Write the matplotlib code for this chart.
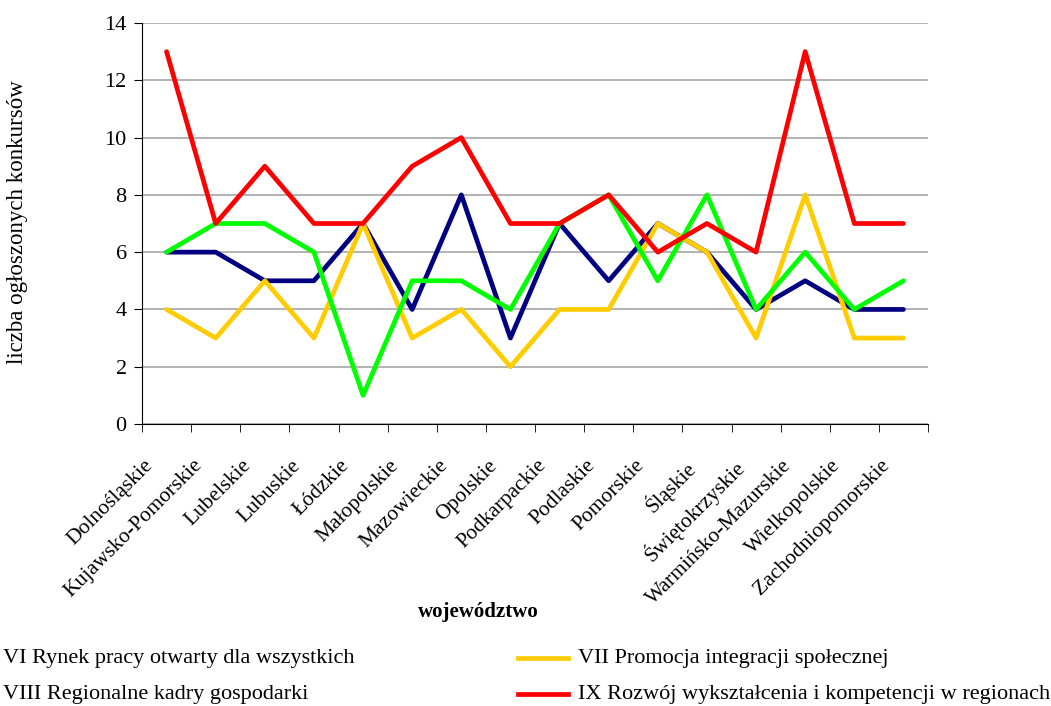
import numpy as np
import matplotlib.pyplot as plt
from matplotlib.lines import Line2D
from matplotlib.ticker import MultipleLocator
from matplotlib.transforms import ScaledTranslation

plt.rcParams['font.family'] = ['Liberation Serif', 'DejaVu Serif']

regions = ['Dolnośląskie', 'Kujawsko-Pomorskie', 'Lubelskie', 'Lubuskie', 'Łódzkie',
           'Małopolskie', 'Mazowieckie', 'Opolskie', 'Podkarpackie', 'Podlaskie',
           'Pomorskie', 'Śląskie', 'Świętokrzyskie', 'Warmińsko-Mazurskie',
           'Wielkopolskie', 'Zachodniopomorskie']
vi = [6, 6, 5, 5, 7, 4, 8, 3, 7, 5, 7, 6, 4, 5, 4, 4]
vii = [4, 3, 5, 3, 7, 3, 4, 2, 4, 4, 7, 6, 3, 8, 3, 3]
viii = [6, 7, 7, 6, 1, 5, 5, 4, 7, 8, 5, 8, 4, 6, 4, 5]
ix = [13, 7, 9, 7, 7, 9, 10, 7, 7, 8, 6, 7, 6, 13, 7, 7]
series_names = ['VI Rynek pracy otwarty dla wszystkich',
                'VII Promocja integracji społecznej',
                'VIII Regionalne kadry gospodarki',
                'IX Rozwój wykształcenia i kompetencji w regionach']
colors = ['#000080', '#FFCC00', '#00FF00', '#FF0000']

fig = plt.figure(figsize=(10.51, 7.06), dpi=100)
ax = fig.add_axes([142/1051, 1-424/706, (928-142)/1051, (424-23)/706])

x = np.arange(len(regions))
for vals, c in zip([vi, vii, viii, ix], colors):
    ax.plot(x, vals, color=c, lw=3.4, solid_capstyle='round', solid_joinstyle='round')

ax.set_xlim(-0.5, len(regions) - 0.5)
ax.set_ylim(0, 14)
ax.yaxis.set_major_locator(MultipleLocator(2))
ax.grid(axis='y', color='#a6a6a6', lw=1.2)
ax.set_axisbelow(True)
for s in ['top', 'right']:
    ax.spines[s].set_visible(False)
ax.tick_params(axis='y', direction='out', length=6, labelsize=16, pad=5)

ax.set_xticks(x, regions, rotation=45, ha='right', rotation_mode='anchor', fontsize=15.5)
ax.tick_params(axis='x', which='major', length=0, pad=18)
ax.set_xticks(np.arange(-0.5, len(regions)), minor=True)
ax.tick_params(axis='x', which='minor', direction='out', length=6)
shift = ScaledTranslation(-23/100, -7/100, fig.dpi_scale_trans)
for lab in ax.get_xticklabels():
    lab.set_transform(lab.get_transform() + shift)

fig.text(478/1051, 1-612/706, 'województwo', ha='center', va='center',
         fontsize=15, fontweight='bold')
fig.text(18/1051, 1-222/706, 'liczba ogłoszonych konkursów', rotation=90,
         ha='center', va='center', fontsize=16.5)

# legend, two columns, left column handles fall off the canvas
leg_pos = [(-57, 658), (518, 658), (-57, 694), (518, 694)]
for (lx, ly), name, c in zip(leg_pos, series_names, colors):
    fig.add_artist(Line2D([lx/1051, (lx+50)/1051], [1-ly/706, 1-ly/706],
                          transform=fig.transFigure, color=c, lw=3.4))
    fig.text((lx+60)/1051, 1-ly/706, name, ha='left', va='center', fontsize=16)

fig.savefig('out.png', dpi=100)
